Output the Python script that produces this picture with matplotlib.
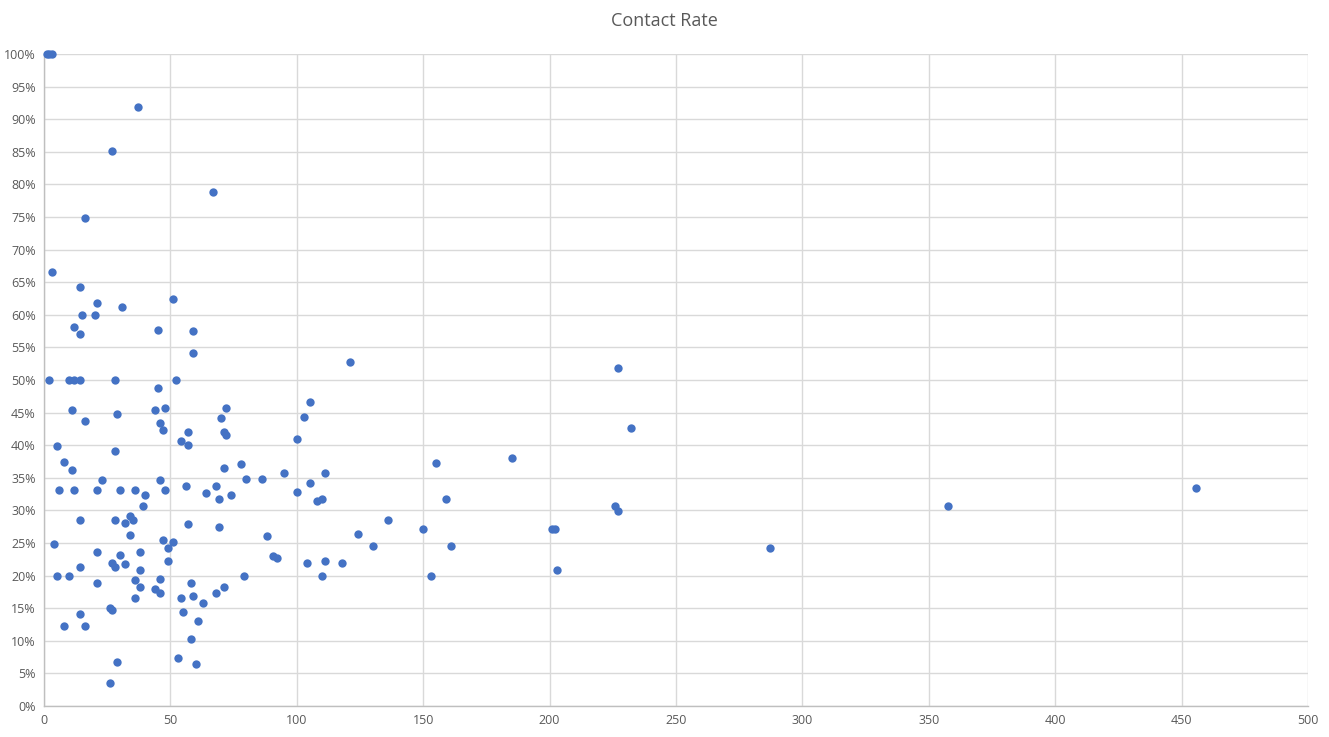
import matplotlib.pyplot as plt
from matplotlib.ticker import MultipleLocator, PercentFormatter

BLUE = "#4472C4"
GRID = "#D9D9D9"
TEXT = "#595959"

# volume (x) and contact rate in % (y)
volume = [
    1, 2, 3, 37.3, 27.0, 66.9, 16.3, 3.3, 14.4, 21.1, 30.9, 51.1, 15.1, 20.3,
    12.0, 14.4, 45.2, 59.0, 59.0,
    2, 10, 12, 14.4, 28.2, 52.3, 45.2, 11.2, 29.0, 16.3, 44.0, 47.9, 46.0,
    47.2, 57.0, 54.3, 57.0, 28.2, 5.3, 70.1, 72.1, 71.3, 72.1, 71.3, 8.0,
    11.2, 6.0, 12.0, 21.1, 23.0, 30.2, 36.1, 40.0, 39.2, 46.0, 47.9, 56.2,
    64.2, 68.1, 69.3, 74.0, 78.0, 80.0, 86.3, 95.0, 100.1, 100.1, 102.9,
    105.3, 105.3, 108.0, 110.0, 111.2, 111.2, 110.0, 104.1, 88.3, 90.6,
    92.2, 79.2, 14.4, 28.2, 32.1, 34.1, 35.3, 34.1, 57.0, 69.3, 4.1, 21.1,
    30.2, 38.1, 47.2, 51.1, 49.1, 49.1, 27.0, 28.2, 32.1, 38.1, 14.4, 5.3,
    10.0, 21.1, 36.1, 38.1, 44.0, 46.0, 46.0, 36.1, 54.3, 58.2, 59.0, 63.0,
    68.1, 71.3, 55.1, 61.0, 58.2, 53.1, 60.2, 29.0, 26.2, 26.2, 27.0, 14.4,
    8.0, 16.3,
    121.1, 227.0, 232.1, 185.1, 155.1, 159.0, 225.8, 227.0, 136.1, 124.2,
    149.9, 130.2, 161.0, 200.9, 202.1, 117.9, 153.1, 202.9,
    287.0, 357.7, 455.7,
]
rate = [
    100, 100, 100, 91.8, 85.1, 78.9, 74.8, 66.5, 64.2, 61.8, 61.2, 62.5, 59.9,
    59.9, 58.2, 57.0, 57.6, 57.5, 54.1,
    50, 50, 50, 50, 50, 50, 48.7, 45.4, 44.8, 43.7, 45.4, 45.7, 43.4, 42.4,
    42.0, 40.6, 40.1, 39.1, 39.8, 44.1, 45.7, 42.1, 41.5, 36.5, 37.4, 36.2,
    33.2, 33.2, 33.2, 34.6, 33.2, 33.2, 32.3, 30.6, 34.6, 33.2, 33.7, 32.6,
    33.7, 31.7, 32.3, 37.1, 34.8, 34.8, 35.7, 40.9, 32.8, 44.4, 46.6, 34.2,
    31.4, 31.7, 35.8, 22.3, 19.9, 21.9, 26.0, 23.0, 22.7, 20.0, 28.5, 28.5,
    28.0, 29.2, 28.5, 26.3, 27.9, 27.4, 24.8, 23.6, 23.1, 23.6, 25.4, 25.2,
    24.3, 22.3, 22.0, 21.3, 21.7, 20.8, 21.3, 19.9, 19.9, 18.8, 19.3, 18.2,
    18.0, 19.4, 17.3, 16.5, 16.5, 18.8, 16.8, 15.8, 17.4, 18.2, 14.4, 13.0,
    10.2, 7.3, 6.5, 6.7, 3.6, 15.1, 14.7, 14.1, 12.3, 12.3,
    52.7, 51.8, 42.6, 38.1, 37.2, 31.8, 30.7, 29.9, 28.5, 26.4, 27.1, 24.5,
    24.6, 27.2, 27.1, 21.9, 20.0, 20.9,
    24.2, 30.7, 33.4,
]

plt.rcParams["font.family"] = ["Open Sans", "DejaVu Sans"]

fig = plt.figure(figsize=(13.29, 7.37), dpi=100)
ax = fig.add_axes([0.0331, 0.0421, 0.9511, 0.8846])

ax.scatter(volume, [r / 100 for r in rate], s=36, color=BLUE,
           linewidths=0, zorder=3, clip_on=False)

ax.set_xlim(0, 500)
ax.set_ylim(0, 1)
ax.xaxis.set_major_locator(MultipleLocator(50))
ax.yaxis.set_major_locator(MultipleLocator(0.05))
ax.yaxis.set_major_formatter(PercentFormatter(1.0, decimals=0))

ax.grid(True, color=GRID, linewidth=1)
ax.set_axisbelow(True)
for s in ("top", "right"):
    ax.spines[s].set_visible(False)
for s in ("left", "bottom"):
    ax.spines[s].set_color("#BFBFBF")
    ax.spines[s].set_linewidth(1)

ax.tick_params(length=0, labelsize=9, colors=TEXT, pad=6)

fig.suptitle("Contact Rate", y=0.984, fontsize=13, color=TEXT)

fig.savefig("out.png", dpi=100)
